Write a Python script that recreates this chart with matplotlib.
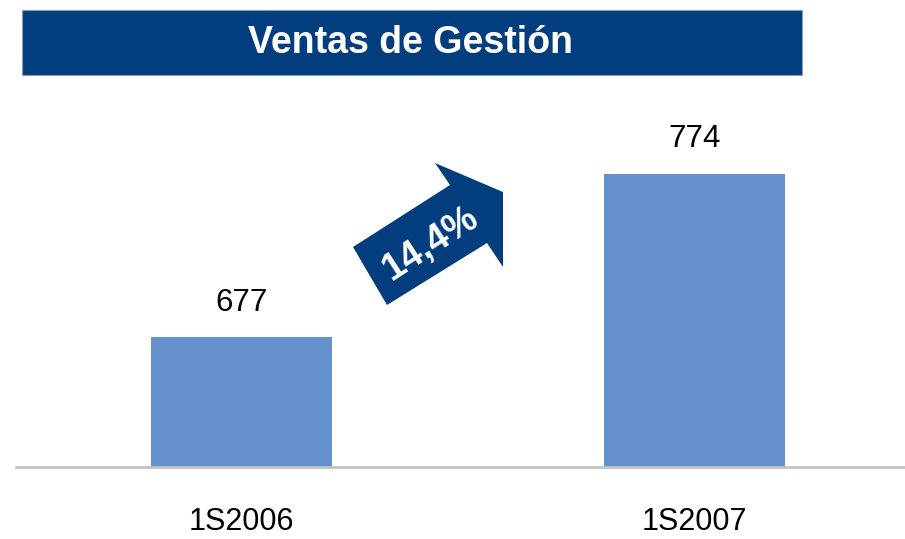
import matplotlib
matplotlib.use("Agg")
import matplotlib.pyplot as plt
from matplotlib.patches import Polygon, Rectangle

# Data
categories = ["1S2006", "1S2007"]
values = [677, 774]
title = "Ventas de Gestión"
growth_label = "14,4%"

W, H = 905, 539
DPI = 100
plt.rcParams['font.family'] = ['Liberation Sans', 'DejaVu Sans']

fig = plt.figure(figsize=(W / DPI, H / DPI), dpi=DPI)

def fx(x):
    return x / W

def fy(y):
    return 1 - y / H

BAR_COLOR = "#6592CC"
DARK_BLUE = "#023E7E"

# Title banner
fig.patches.append(Rectangle((fx(22), fy(75)), fx(802) - fx(22), fy(10) - fy(75),
                             transform=fig.transFigure, facecolor=DARK_BLUE,
                             edgecolor="#8A9BB5", linewidth=0.8, zorder=1))
fig.text(fx(410), fy(43), title, color="white", fontsize=27, fontweight="bold",
         ha="center", va="center", zorder=2)

# Axes
left, right, top, base = 16, 905, 90, 467
ax = fig.add_axes([fx(left), fy(base), fx(right) - fx(left), fy(top) - fy(base)])
x = list(range(len(categories)))
bars = ax.bar(x, values, width=0.4, color=BAR_COLOR, zorder=2)
ax.set_xlim(-0.498, 1.465)
ax.set_ylim(600, 824)
for s in ["top", "right", "left"]:
    ax.spines[s].set_visible(False)
ax.spines["bottom"].set_color("#C3C3C3")
ax.spines["bottom"].set_linewidth(2)
ax.set_yticks([])
ax.set_xticks(x)
ax.set_xticklabels(categories, fontsize=22, color="black")
ax.tick_params(axis="x", length=0, pad=29)
ax.patch.set_alpha(0)

for xi, v in zip(x, values):
    ax.annotate(f"{v}", (xi, v), xytext=(0, 25), textcoords="offset points",
                ha="center", va="center", fontsize=22.5, color="black")

# Growth arrow
pts = [(353, 247), (450, 185), (435, 163), (503, 192), (503, 267), (487, 243), (387, 305)]
fig.patches.append(Polygon([(fx(px), fy(py)) for px, py in pts], closed=True,
                           transform=fig.transFigure, facecolor=DARK_BLUE,
                           edgecolor="none", zorder=3))
fig.text(fx(431), fy(244), growth_label, color="white", fontsize=27,
         fontweight="bold", rotation=33, ha="center", va="center",
         rotation_mode="anchor", zorder=4)

fig.savefig("out.png", dpi=DPI)
